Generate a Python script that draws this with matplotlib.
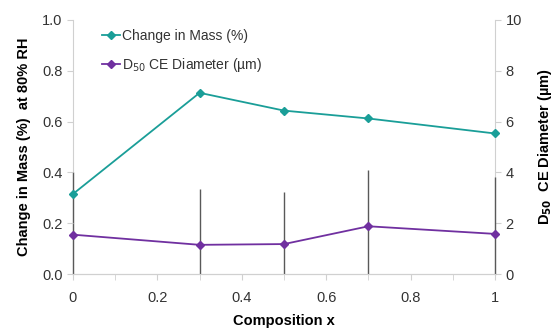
import matplotlib.pyplot as plt
import numpy as np

plt.rcParams['font.family'] = ['Liberation Sans', 'DejaVu Sans']

# data
composition = [0, 0.3, 0.5, 0.7, 1.0]
mass_change = [0.315, 0.713, 0.643, 0.612, 0.553]
d50 = [1.55, 1.15, 1.18, 1.88, 1.58]
d50_err = [2.48, 2.18, 2.06, 2.21, 2.22]

teal = '#1a9e98'
purple = '#7030a0'
grid_col = '#d0d0d0'
text_col = '#333333'

fig = plt.figure(figsize=(5.55, 3.31), dpi=100)
ax = fig.add_axes([0.1315, 0.172, 0.7605, 0.768])
ax2 = ax.twinx()

# secondary axis: D50 with error bars (lower part stops at the axis)
lower = np.minimum(d50_err, d50)
ax2.errorbar(composition, d50, yerr=[lower, d50_err], fmt='none', ecolor='#595959',
             elinewidth=1.0, capsize=0, zorder=3, clip_on=False)
ax2.plot(composition, d50, color=purple, marker='D', markersize=4, lw=1.3,
         label='D$_{50}$ CE Diameter (µm)', zorder=4, clip_on=False)
ax2.set_ylim(0, 10)
ax2.set_yticks(np.arange(0, 11, 2))

# primary axis: change in mass
ax.plot(composition, mass_change, color=teal, marker='D', markersize=4, lw=1.3,
        label='Change in Mass (%)', zorder=3, clip_on=False)
ax.set_ylim(0, 1.0)
ax.set_xlim(0, 1)
ax.set_yticks(np.arange(0, 1.01, 0.2))
ax.set_yticklabels(['%.1f' % v for v in np.arange(0, 1.01, 0.2)])
ax.set_xticks(np.arange(0, 1.01, 0.1), minor=True)
ax.set_xticks([0, 0.2, 0.4, 0.6, 0.8, 1.0])
ax.set_xticklabels(['0', '0.2', '0.4', '0.6', '0.8', '1'])

for a in (ax, ax2):
    a.spines['top'].set_visible(False)
    for s in ('left', 'right', 'bottom'):
        a.spines[s].set_color(grid_col)
    a.tick_params(colors=grid_col, labelcolor=text_col, labelsize=10.5, length=4)
# let the error bars at x=0 and x=1 show over the side spines
ax.spines['left'].set_visible(False)
ax.spines['right'].set_visible(False)
ax.tick_params(axis='x', which='both', direction='out', length=4, pad=8)
ax.tick_params(axis='x', which='minor', colors=grid_col)
ax.set_zorder(ax2.get_zorder() + 1)
ax.patch.set_visible(False)

ax.set_xlabel('Composition x', fontsize=10.5, fontweight='bold', labelpad=7)
ax.set_ylabel('Change in Mass (%)  at 80% RH', fontsize=10.5, fontweight='bold', labelpad=8)
ax2.set_ylabel('D$_{\\mathbf{50}}$  CE Diameter (µm)', fontsize=10.5, fontweight='bold', labelpad=10)

h1, l1 = ax.get_legend_handles_labels()
h2, l2 = ax2.get_legend_handles_labels()
leg = ax.legend(h1 + h2, l1 + l2, loc='upper left', bbox_to_anchor=(0.04, 1.015),
                frameon=False, fontsize=10, handlelength=1.3, handletextpad=0.1,
                labelspacing=0.95, labelcolor=text_col)

fig.savefig('out.png', dpi=100)
